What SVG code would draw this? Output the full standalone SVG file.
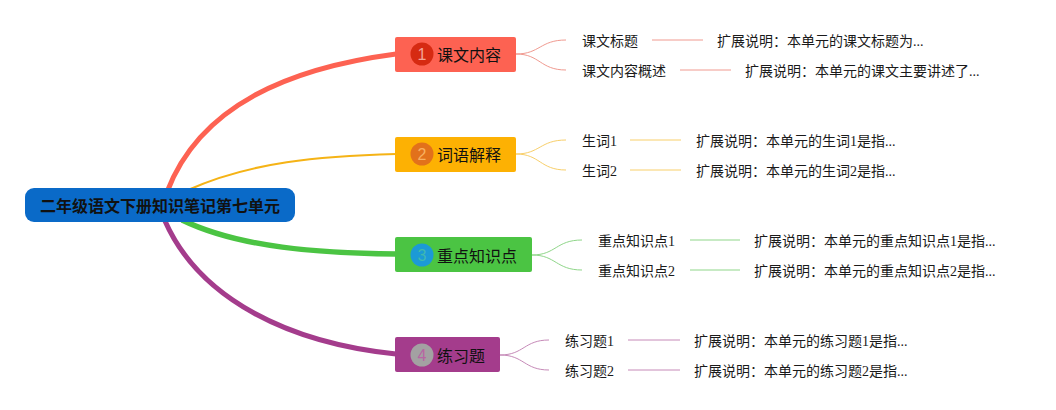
<svg xmlns="http://www.w3.org/2000/svg" width="1056" height="410" viewBox="0 0 1056 410">
<style>
.main{font-family:"Noto Sans CJK SC","Noto Sans",sans-serif;font-size:16px;fill:#111;dominant-baseline:central}
.num{font-family:"Liberation Sans","Noto Sans",sans-serif;font-size:16px;text-anchor:middle;dominant-baseline:central}
.sub{font-family:"Liberation Serif","Noto Sans CJK SC",serif;font-size:14px;fill:#1a1a1a;dominant-baseline:central}
.root{font-family:"Noto Sans CJK SC",sans-serif;font-size:16px;font-weight:bold;fill:#111;text-anchor:middle;dominant-baseline:central}
path{fill:none}
</style>
<rect width="1056" height="410" fill="#fff"/>
<g id="connectors">
<path d="M167,192 C200,105 290,68 396,54" stroke="#fd6252" stroke-width="5"/>
<path d="M188,190 C250,162 320,156 396,154" stroke="#f5b316" stroke-width="2"/>
<path d="M182,220 C240,248 320,253 396,254" stroke="#4bc443" stroke-width="5.5"/>
<path d="M165,221 C200,300 290,343 396,354" stroke="#a43c8c" stroke-width="5"/>
<g stroke="#f09a90" stroke-width="1">
<path d="M516,54 C540,54 540,40 566,40"/><path d="M516,54 C540,54 540,70 566,70"/>
<path d="M652,40 H703"/><path d="M680,70 H731"/>
</g>
<g stroke="#f8cf6a" stroke-width="1">
<path d="M516,154 C540,154 540,140 566,140"/><path d="M516,154 C540,154 540,170 566,170"/>
<path d="M630,140 H681"/><path d="M630,170 H681"/>
</g>
<g stroke="#8fd689" stroke-width="1">
<path d="M532,255 C556,255 556,240 582,240"/><path d="M532,255 C556,255 556,270 582,270"/>
<path d="M690,240 H740"/><path d="M690,270 H740"/>
</g>
<g stroke="#c68ab8" stroke-width="1">
<path d="M500,355 C524,355 524,340 549,340"/><path d="M500,355 C524,355 524,370 549,370"/>
<path d="M628,340 H680"/><path d="M628,370 H680"/>
</g>
</g>
<g id="root">
<rect x="25" y="188" width="270" height="34" rx="9" fill="#0a6ac8"/>
<text class="root" x="160" y="205">二年级语文下册知识笔记第七单元</text>
</g>
<g id="b1">
<rect x="395" y="37" width="121" height="35" rx="2" fill="#fd6252"/>
<circle cx="422" cy="54" r="11.5" fill="#d62a12"/>
<text class="num" x="422" y="54" fill="#f3a395">1</text>
<text class="main" x="437" y="54">课文内容</text>
</g>
<g id="b1c1"><text class="sub" x="582" y="41">课文标题</text></g>
<g id="b1c2"><text class="sub" x="582" y="71">课文内容概述</text></g>
<g id="b1e1"><text class="sub" x="717" y="41">扩展说明：本单元的课文标题为...</text></g>
<g id="b1e2"><text class="sub" x="745" y="71">扩展说明：本单元的课文主要讲述了...</text></g>
<g id="b2">
<rect x="395" y="137" width="121" height="35" rx="2" fill="#fdb103"/>
<circle cx="422" cy="154" r="11.5" fill="#e2711b"/>
<text class="num" x="422" y="154" fill="#f8b060">2</text>
<text class="main" x="437" y="154">词语解释</text>
</g>
<g id="b2c1"><text class="sub" x="582" y="141">生词1</text></g>
<g id="b2c2"><text class="sub" x="582" y="171">生词2</text></g>
<g id="b2e1"><text class="sub" x="696" y="141">扩展说明：本单元的生词1是指...</text></g>
<g id="b2e2"><text class="sub" x="696" y="171">扩展说明：本单元的生词2是指...</text></g>
<g id="b3">
<rect x="395" y="237" width="137" height="35" rx="2" fill="#4bc443"/>
<circle cx="422" cy="255" r="11.5" fill="#1c9ad6"/>
<text class="num" x="422" y="255" fill="#3fb8b0">3</text>
<text class="main" x="437" y="255">重点知识点</text>
</g>
<g id="b3c1"><text class="sub" x="598" y="241">重点知识点1</text></g>
<g id="b3c2"><text class="sub" x="598" y="271">重点知识点2</text></g>
<g id="b3e1"><text class="sub" x="754" y="241">扩展说明：本单元的重点知识点1是指...</text></g>
<g id="b3e2"><text class="sub" x="754" y="271">扩展说明：本单元的重点知识点2是指...</text></g>
<g id="b4">
<rect x="395" y="337" width="105" height="35" rx="2" fill="#a43c8c"/>
<circle cx="422" cy="355" r="11.5" fill="#a3a1a2"/>
<text class="num" x="422" y="355" fill="#b865a3">4</text>
<text class="main" x="437" y="355">练习题</text>
</g>
<g id="b4c1"><text class="sub" x="565" y="341">练习题1</text></g>
<g id="b4c2"><text class="sub" x="565" y="371">练习题2</text></g>
<g id="b4e1"><text class="sub" x="694" y="341">扩展说明：本单元的练习题1是指...</text></g>
<g id="b4e2"><text class="sub" x="694" y="371">扩展说明：本单元的练习题2是指...</text></g>
</svg>
